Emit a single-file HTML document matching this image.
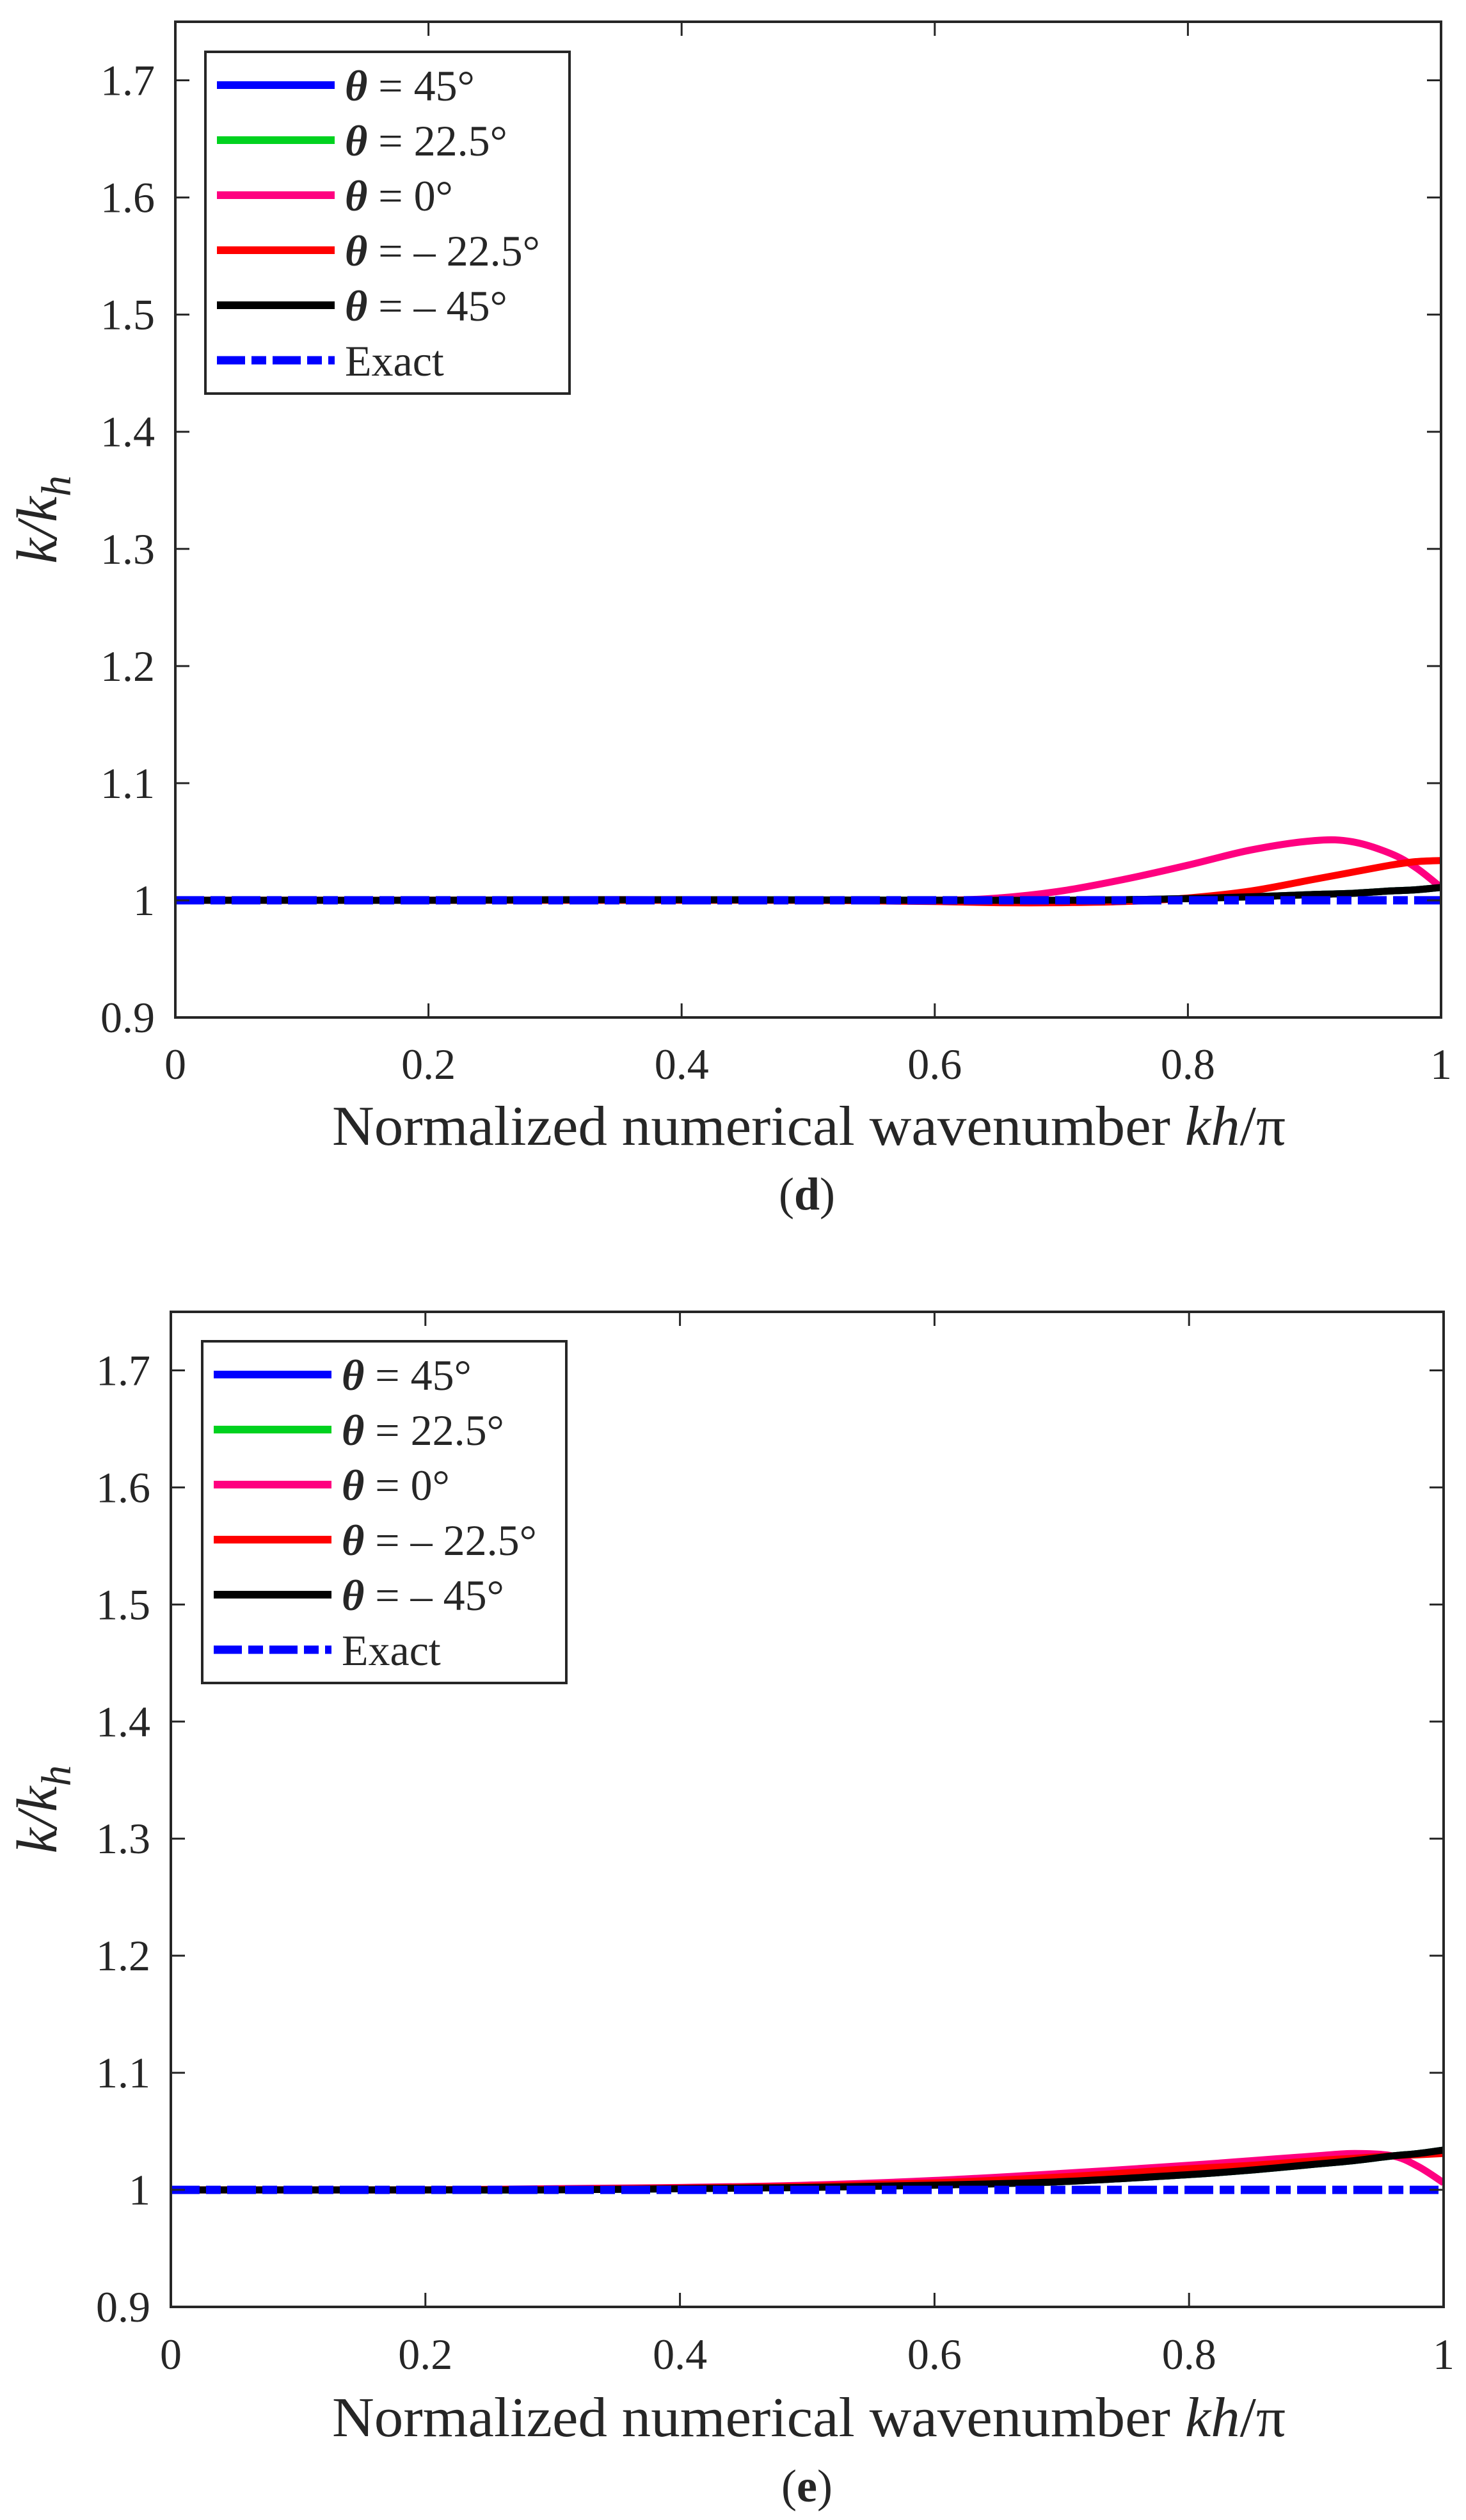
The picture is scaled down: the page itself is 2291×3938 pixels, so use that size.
<!DOCTYPE html>
<html><head><meta charset="utf-8">
<style>
html,body{margin:0;padding:0;background:#fff;}
svg{display:block;}
text{font-family:"Liberation Serif","Times New Roman",serif;fill:#262626;}
</style></head>
<body>
<svg id="fig" width="2291" height="3938" viewBox="0 0 2291 3938" xmlns="http://www.w3.org/2000/svg" font-family="Liberation Serif, serif"></svg>
<script>
// ---------- data ----------
const xTicks = [0, 0.2, 0.4, 0.6, 0.8, 1];
const xTickLabels = ["0", "0.2", "0.4", "0.6", "0.8", "1"];
const yTicks = [0.9, 1.0, 1.1, 1.2, 1.3, 1.4, 1.5, 1.6, 1.7];
const yTickLabels = ["0.9", "1", "1.1", "1.2", "1.3", "1.4", "1.5", "1.6", "1.7"];
const seriesNames = ["θ = 45°", "θ = 22.5°", "θ = 0°", "θ = – 22.5°", "θ = – 45°", "Exact"];
const seriesColors = ["#0000ff", "#00d21f", "#ff0080", "#ff0000", "#000000", "#0000ff"];

// panel (d)
const dX = [0, 0.1, 0.2, 0.3, 0.4, 0.5, 0.6, 0.65, 0.7, 0.75, 0.8, 0.85, 0.9, 0.93, 0.96, 0.98, 1.0];
const dTheta45   = [1, 1, 1, 1.0005, 1.0005, 1.0003, 1, 1, 1, 1.0005, 1.0015, 1.003, 1.005, 1.006, 1.008, 1.009, 1.011];
const dTheta22   = [1, 1, 1, 1.0005, 1.0005, 1.0003, 1, 1, 1, 1.0005, 1.0015, 1.003, 1.005, 1.006, 1.008, 1.009, 1.011];
const dTheta0    = [1, 1, 1, 1.0005, 1.0005, 1, 1.0, 1.002, 1.008, 1.018, 1.03, 1.043, 1.051, 1.05, 1.04, 1.028, 1.011];
const dThetaM22  = [1, 1, 1, 1, 1, 1, 0.999, 0.998, 0.998, 0.999, 1.002, 1.008, 1.018, 1.024, 1.03, 1.033, 1.034];
const dThetaM45  = [1, 1, 1, 1.0005, 1.0005, 1.0003, 1, 1, 1, 1.0005, 1.0015, 1.003, 1.005, 1.006, 1.008, 1.009, 1.011];
const dExact     = [1, 1, 1, 1, 1, 1, 1, 1, 1, 1, 1, 1, 1, 1, 1, 1, 1];

// panel (e)
const eX = [0, 0.1, 0.2, 0.3, 0.4, 0.5, 0.6, 0.7, 0.8, 0.85, 0.9, 0.93, 0.96, 0.98, 1.0];
const eTheta45   = [1, 1, 1, 1, 1.001, 1.002, 1.004, 1.007, 1.013, 1.017, 1.022, 1.025, 1.029, 1.031, 1.034];
const eTheta22   = [1, 1, 1, 1, 1.001, 1.002, 1.004, 1.007, 1.013, 1.017, 1.022, 1.025, 1.029, 1.031, 1.034];
const eTheta0    = [1, 1, 1, 1.001, 1.002, 1.004, 1.008, 1.014, 1.021, 1.025, 1.029, 1.031, 1.029, 1.02, 1.006];
const eThetaM22  = [1, 1, 1, 1.0005, 1.0015, 1.003, 1.006, 1.011, 1.018, 1.021, 1.025, 1.027, 1.029, 1.03, 1.031];
const eThetaM45  = [1, 1, 1, 1, 1.001, 1.002, 1.004, 1.007, 1.013, 1.017, 1.022, 1.025, 1.029, 1.031, 1.034];
const eExact     = [1, 1, 1, 1, 1, 1, 1, 1, 1, 1, 1, 1, 1, 1, 1];

// ---------- drawing ----------
const NS = "http://www.w3.org/2000/svg";
const FONT = "Liberation Serif, Times New Roman, serif";
const svg = document.getElementById("fig");
function mk(tag, attrs, parent) {
  const e = document.createElementNS(NS, tag);
  for (const k in attrs) e.setAttribute(k, attrs[k]);
  if (tag === "text") e.setAttribute("font-family", FONT);
  (parent || svg).appendChild(e);
  return e;
}
// smooth path through points (Catmull-Rom -> cubic Bezier)
function smoothPath(px, py) {
  let d = "M" + px[0].toFixed(1) + " " + py[0].toFixed(1);
  for (let i = 0; i < px.length - 1; i++) {
    const x0 = px[Math.max(i - 1, 0)], y0 = py[Math.max(i - 1, 0)];
    const x1 = px[i], y1 = py[i], x2 = px[i + 1], y2 = py[i + 1];
    const x3 = px[Math.min(i + 2, px.length - 1)], y3 = py[Math.min(i + 2, px.length - 1)];
    const c1x = x1 + (x2 - x0) / 6, c1y = y1 + (y2 - y0) / 6;
    const c2x = x2 - (x3 - x1) / 6, c2y = y2 - (y3 - y1) / 6;
    d += " C" + c1x.toFixed(1) + " " + c1y.toFixed(1) + " " + c2x.toFixed(1) + " " + c2y.toFixed(1) + " " + x2.toFixed(1) + " " + y2.toFixed(1);
  }
  return d;
}

function panel(cfg) {
  const g = mk("g", {});
  
  
  const L = cfg.left, R = cfg.right, T = cfg.top, B = cfg.bottom;
  const y0 = 0.9, y1 = 1.75;
  const sx = v => L + (v - 0) / (1 - 0) * (R - L);
  const sy = v => B - (v - y0) / (y1 - y0) * (B - T);

  const ys = [cfg.s45, cfg.s22, cfg.s0, cfg.sm22, cfg.sm45];
  const seriesKeys = ["theta-45", "theta-22-5", "theta-0", "theta-minus-22-5", "theta-minus-45"];
  const clip = mk("clipPath", {id: cfg.name + "-clip"}, g);
  mk("rect", {x: L, y: T, width: R - L, height: B - T}, clip);
  const plot = mk("g", {"clip-path": "url(#" + cfg.name + "-clip)"}, g);
  const px = cfg.x.map(sx);
  for (let i = 0; i < ys.length; i++) {
    const p = mk("path", {d: smoothPath(px, ys[i].map(sy)), fill: "none", stroke: seriesColors[i], "stroke-width": 11, "stroke-linejoin": "round"}, plot);
    
    
  }
  const ex = mk("path", {d: smoothPath(px, cfg.exact.map(sy)), fill: "none", stroke: seriesColors[5], "stroke-width": 13, "stroke-dasharray": "45 10 23 10"}, plot);
  
  

  const box = mk("rect", {x: L, y: T, width: R - L, height: B - T, fill: "none", stroke: "#262626", "stroke-width": 4}, g);
  
  

  for (let i = 0; i < xTicks.length; i++) {
    const x = sx(xTicks[i]);
    mk("line", {x1: x, y1: B, x2: x, y2: B - 22, stroke: "#262626", "stroke-width": 3}, g);
    mk("line", {x1: x, y1: T, x2: x, y2: T + 22, stroke: "#262626", "stroke-width": 3}, g);
    const t = mk("text", {x: x, y: cfg.xTickY, "text-anchor": "middle", "font-size": 68}, g);
    t.textContent = xTickLabels[i];
    
    
  }
  for (let i = 0; i < yTicks.length; i++) {
    const y = sy(yTicks[i]);
    mk("line", {x1: L, y1: y, x2: L + 22, y2: y, stroke: "#262626", "stroke-width": 3}, g);
    mk("line", {x1: R, y1: y, x2: R - 22, y2: y, stroke: "#262626", "stroke-width": 3}, g);
    const t = mk("text", {x: L - 32, y: y + 23, "text-anchor": "end", "font-size": 68}, g);
    t.textContent = yTickLabels[i];
    
    
  }
  const cy = (T + B) / 2;
  const yl = mk("text", {transform: "translate(88," + cy + ") rotate(-90)", "text-anchor": "middle", "font-size": 90, "font-style": "italic"}, g);
  
  
  yl.appendChild(document.createTextNode("k/k"));
  const sub = mk("tspan", {dy: 22, "font-size": 66}, yl);
  sub.textContent = "h";

  const xl = mk("text", {x: 519, y: cfg.xLabelY, "font-size": 88, textLength: 1490, lengthAdjust: "spacingAndGlyphs"}, g);
  
  
  xl.appendChild(document.createTextNode("Normalized numerical wavenumber "));
  const it = mk("tspan", {"font-style": "italic"}, xl);
  it.textContent = "kh";
  xl.appendChild(document.createTextNode("/π"));

  const cap = mk("text", {x: 1261, y: cfg.capY, "text-anchor": "middle", "font-size": 72}, g);
  
  
  cap.appendChild(document.createTextNode("("));
  const bb = mk("tspan", {"font-weight": "bold"}, cap);
  bb.textContent = cfg.letter;
  cap.appendChild(document.createTextNode(")"));

  const lg = mk("g", {}, g);
  
  
  mk("rect", {x: cfg.lgX, y: cfg.lgY, width: 569, height: 534, fill: "#fff", stroke: "#262626", "stroke-width": 4}, lg);
  for (let i = 0; i < 6; i++) {
    const ey = cfg.lgY + 52 + i * 86;
    const entry = mk("g", {}, lg);
    
    
    const la = {x1: cfg.lgX + 18, y1: ey, x2: cfg.lgX + 202, y2: ey, stroke: seriesColors[i], "stroke-width": i === 5 ? 13 : 12};
    if (i === 5) la["stroke-dasharray"] = "44 10 23 10";
    mk("line", la, entry);
    const t = mk("text", {x: cfg.lgX + 218, y: ey + 24, "font-size": 68, fill: "#000"}, entry);
    if (i < 5) {
      const th = mk("tspan", {"font-style": "italic", "font-weight": "bold"}, t);
      th.textContent = "θ";
      t.appendChild(document.createTextNode(seriesNames[i].slice(1)));
    } else {
      t.textContent = seriesNames[i];
    }
  }
}

panel({name: "panel-d", letter: "d", left: 274, right: 2252, top: 34, bottom: 1590,
  xTickY: 1686, xLabelY: 1789, capY: 1890, lgX: 321, lgY: 81,
  x: dX, s45: dTheta45, s22: dTheta22, s0: dTheta0, sm22: dThetaM22, sm45: dThetaM45, exact: dExact});
panel({name: "panel-e", letter: "e", left: 267, right: 2256, top: 2050, bottom: 3605,
  xTickY: 3702, xLabelY: 3807, capY: 3909, lgX: 316, lgY: 2096,
  x: eX, s45: eTheta45, s22: eTheta22, s0: eTheta0, sm22: eThetaM22, sm45: eThetaM45, exact: eExact});
</script>
</body></html>
